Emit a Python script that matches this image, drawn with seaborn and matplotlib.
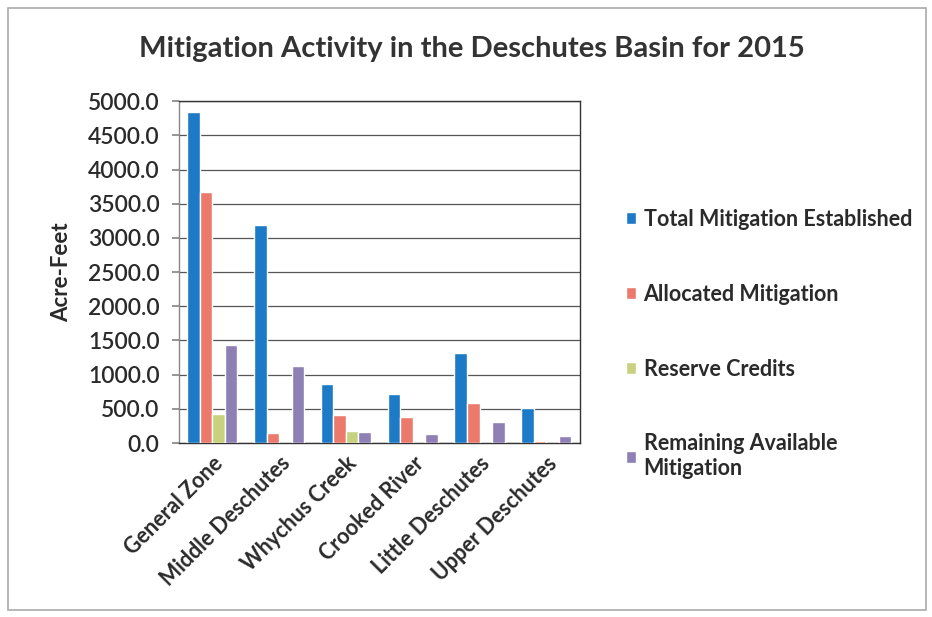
import numpy as np
import pandas as pd
import matplotlib
matplotlib.use("Agg")
import matplotlib.pyplot as plt
import seaborn as sns

categories = ["General Zone", "Middle Deschutes", "Whychus Creek",
              "Crooked River", "Little Deschutes", "Upper Deschutes"]
total_established = [4840, 3190, 858, 712, 1310, 517]
allocated = [3670, 150, 409, 375, 580, 30]
reserve_credits = [430, 0, 180, 0, 0, 5]
remaining = [1430, 1125, 165, 136, 312, 102]
series_names = ["Total Mitigation Established", "Allocated Mitigation",
                "Reserve Credits", "Remaining Available\nMitigation"]
colors = ["#1c7ac6", "#ec7a6c", "#c8d17e", "#8e80b4"]
yticks = [0, 500, 1000, 1500, 2000, 2500, 3000, 3500, 4000, 4500, 5000]

rows = []
for name, vals in zip(series_names, [total_established, allocated, reserve_credits, remaining]):
    for c, v in zip(categories, vals):
        rows.append({"Zone": c, "Series": name, "Value": v})
df = pd.DataFrame(rows)

sns.set_theme(style="white")
plt.rcParams['font.family'] = ['Lato', 'DejaVu Sans']

fig = plt.figure(figsize=(9.32, 6.17), dpi=100)
ax = fig.add_axes([0.192, 0.282, 0.430, 0.554])

sns.barplot(data=df, x="Zone", y="Value", hue="Series", order=categories,
            hue_order=series_names, palette=colors, width=0.75, ax=ax,
            saturation=1, errorbar=None, zorder=3)

ax.set_ylim(0, 5000)
ax.set_xlim(-0.5, len(categories) - 0.5)
ax.set_yticks(yticks)
ax.set_yticklabels([f"{v:.1f}" for v in yticks], fontsize=16.5, fontweight="semibold",
                   color="#2a2a2a")
ax.yaxis.grid(True, color="#555555", linewidth=0.9, zorder=0)
ax.set_axisbelow(True)
for s in ax.spines.values():
    s.set_color("#333333")
    s.set_linewidth(1.0)
ax.spines["left"].set_color("#888888")
ax.set_xticks(range(len(categories)))
ax.set_xticklabels(categories, rotation=45, ha="right", rotation_mode="anchor",
                   fontsize=15.5, fontweight="bold", color="#2a2a2a")
ax.set_xticks(np.arange(-0.5, len(categories), 1), minor=True)
ax.tick_params(axis="x", which="major", length=0, pad=7)
ax.tick_params(axis="x", which="minor", length=4, color="#888888", direction="out")
ax.tick_params(axis="y", length=5, color="#888888", direction="out", pad=9, left=True)
ax.set_xlabel("")
ax.set_ylabel("Acre-Feet", fontsize=16, fontweight="bold", color="#2a2a2a", labelpad=11)

fig.text(0.506, 0.921, "Mitigation Activity in the Deschutes Basin for 2015",
         fontsize=21, fontweight="bold", color="#333333", ha="center", va="center")

leg = ax.legend(loc="upper left", bbox_to_anchor=(1.095, 0.71), frameon=False,
                fontsize=15.5, handlelength=0.45, handleheight=0.45,
                handletextpad=0.35, labelspacing=2.5, borderaxespad=0)
for t in leg.get_texts():
    t.set_color("#2a2a2a")
    t.set_fontweight("bold")

border = plt.Rectangle((0.009, 0.012), 0.985, 0.975, transform=fig.transFigure,
                       fill=False, edgecolor="#aaaaaa", linewidth=1.2)
fig.patches.append(border)

fig.savefig("out.png", dpi=100)
